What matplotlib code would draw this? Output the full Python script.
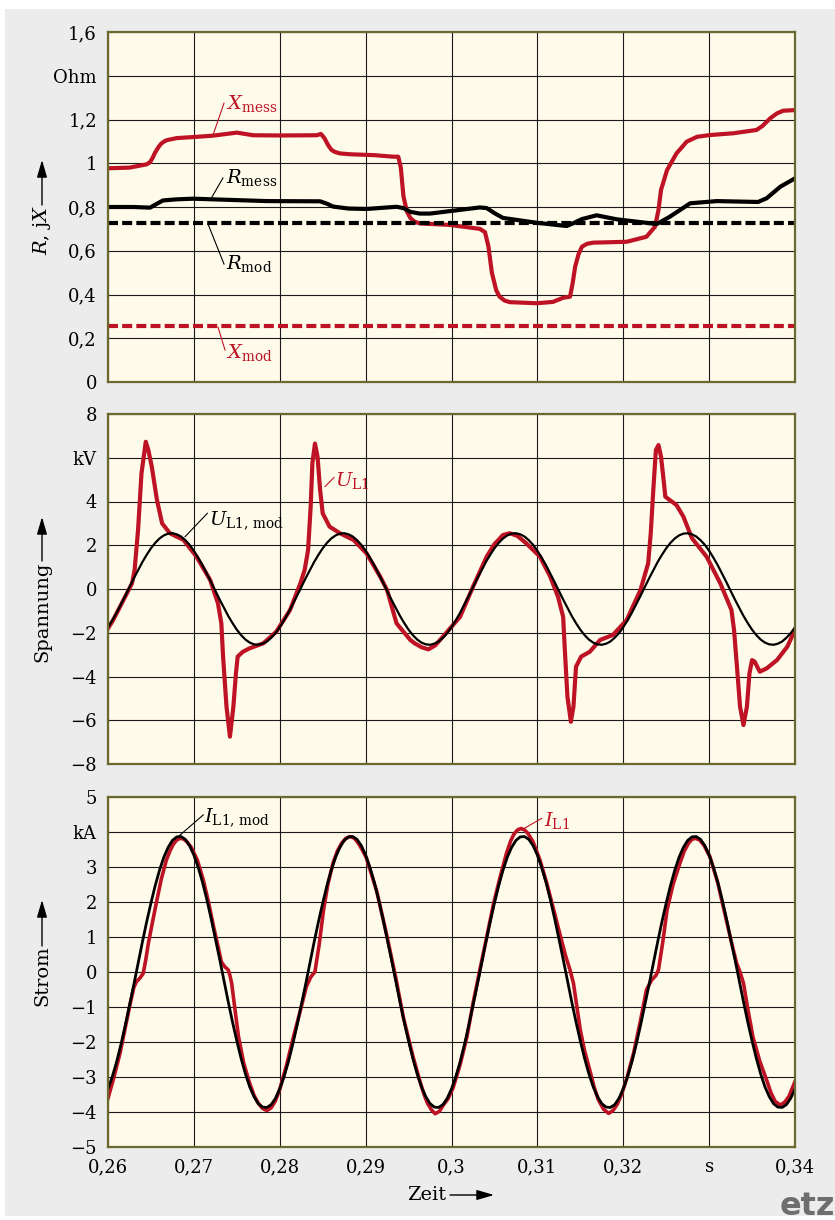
import numpy as np
import matplotlib
matplotlib.use('Agg')
import matplotlib.pyplot as plt
from matplotlib.patches import Rectangle

plt.rcParams['font.family'] = ['DejaVu Serif']
plt.rcParams['mathtext.fontset'] = 'dejavuserif'

RED = '#be1324'
BG = '#fefbeb'
FRAME = '#6b6830'

# --- panel 1: R, jX (Ohm) ---
t_xmess = [0.2600, 0.2625, 0.2645, 0.2649, 0.2652, 0.2655, 0.2659, 0.2662, 0.2666, 0.2669,
           0.2680, 0.2700, 0.2722, 0.2750, 0.2769, 0.2800, 0.2843, 0.2848, 0.2852, 0.2856,
           0.2860, 0.2864, 0.2870, 0.2882, 0.2910, 0.2932, 0.2938, 0.2941, 0.2944, 0.2948,
           0.2952, 0.2957, 0.2963, 0.2998, 0.3033, 0.3039, 0.3043, 0.3047, 0.3052, 0.3056,
           0.3062, 0.3068, 0.3099, 0.3118, 0.3130, 0.3138, 0.3141, 0.3144, 0.3148, 0.3152,
           0.3158, 0.3165, 0.3204, 0.3227, 0.3237, 0.3241, 0.3244, 0.3251, 0.3262, 0.3274,
           0.3286, 0.3301, 0.3328, 0.3355, 0.3362, 0.3371, 0.3379, 0.3386, 0.3400]
x_mess = [0.977, 0.980, 0.995, 1.005, 1.025, 1.050, 1.075, 1.090, 1.101, 1.106,
          1.115, 1.120, 1.126, 1.140, 1.128, 1.127, 1.128, 1.134, 1.115, 1.085,
          1.062, 1.052, 1.045, 1.041, 1.037, 1.030, 1.030, 0.980, 0.850, 0.780,
          0.750, 0.733, 0.725, 0.718, 0.700, 0.685, 0.620, 0.500, 0.420, 0.390,
          0.372, 0.365, 0.360, 0.366, 0.385, 0.390, 0.450, 0.527, 0.585, 0.619,
          0.632, 0.637, 0.641, 0.664, 0.710, 0.786, 0.878, 0.969, 1.045, 1.099,
          1.121, 1.129, 1.137, 1.152, 1.170, 1.205, 1.228, 1.240, 1.243]

t_rmess = [0.2600, 0.2630, 0.2649, 0.2657, 0.2664, 0.2680, 0.2699, 0.2746, 0.2785, 0.2847,
           0.2855, 0.2862, 0.2880, 0.2901, 0.2936, 0.2944, 0.2952, 0.2963, 0.2975, 0.3033,
           0.3041, 0.3050, 0.3060, 0.3099, 0.3134, 0.3142, 0.3152, 0.3169, 0.3192, 0.3239,
           0.3254, 0.3278, 0.3309, 0.3357, 0.3367, 0.3383, 0.3400]
r_mess = [0.800, 0.800, 0.797, 0.815, 0.830, 0.835, 0.838, 0.832, 0.827, 0.826,
          0.815, 0.802, 0.793, 0.791, 0.801, 0.795, 0.778, 0.770, 0.770, 0.798,
          0.795, 0.772, 0.750, 0.728, 0.713, 0.726, 0.745, 0.762, 0.744, 0.722,
          0.755, 0.817, 0.827, 0.823, 0.840, 0.893, 0.931]

t_const = [0.26, 0.34]
r_mod = [0.725, 0.725]
x_mod = [0.257, 0.257]

# --- panel 2: Spannung (kV) ---
t_u = [0.2600, 0.2606, 0.2614, 0.2622, 0.2628, 0.2631, 0.2635, 0.2639, 0.2644, 0.2647,
       0.2651, 0.2657, 0.2663, 0.2672, 0.2688, 0.2703, 0.2719, 0.2728, 0.2732, 0.2734,
       0.2738, 0.2742, 0.2746, 0.2749, 0.2751, 0.2757, 0.2765, 0.2781, 0.2796, 0.2812,
       0.2824, 0.2829, 0.2833, 0.2836, 0.2838, 0.2841, 0.2844, 0.2847, 0.2850, 0.2858,
       0.2870, 0.2886, 0.2901, 0.2917, 0.2925, 0.2936, 0.2952, 0.2957, 0.2965, 0.2973,
       0.2981, 0.2990, 0.3010, 0.3025, 0.3041, 0.3050, 0.3060, 0.3068, 0.3077, 0.3087,
       0.3103, 0.3115, 0.3124, 0.3130, 0.3132, 0.3135, 0.3139, 0.3142, 0.3145, 0.3151,
       0.3161, 0.3173, 0.3188, 0.3204, 0.3220, 0.3229, 0.3232, 0.3235, 0.3238, 0.3241,
       0.3244, 0.3247, 0.3249, 0.3254, 0.3262, 0.3270, 0.3280, 0.3297, 0.3313, 0.3326,
       0.3329, 0.3333, 0.3336, 0.3340, 0.3344, 0.3347, 0.3350, 0.3353, 0.3359, 0.3367,
       0.3379, 0.3391, 0.3400]
u_l1 = [-1.80, -1.42, -0.81, -0.20, 0.26, 0.87, 2.70, 5.29, 6.73, 6.35,
        5.59, 4.07, 3.00, 2.55, 2.24, 1.48, 0.41, -0.65, -1.57, -3.09,
        -5.38, -6.75, -5.38, -3.85, -3.09, -2.87, -2.71, -2.48, -1.95, -0.96,
        0.26, 0.87, 1.78, 3.76, 5.75, 6.65, 6.05, 4.53, 3.46, 2.85,
        2.55, 2.24, 1.63, 0.56, -0.05, -1.57, -2.33, -2.48, -2.66, -2.76,
        -2.58, -2.18, -1.27, 0.10, 1.48, 2.05, 2.47, 2.55, 2.42, 2.09,
        1.48, 0.56, -0.35, -1.27, -2.79, -4.92, -6.07, -5.38, -3.55, -3.09,
        -2.87, -2.33, -2.10, -1.42, -0.05, 1.17, 2.54, 4.53, 6.35, 6.58,
        6.05, 4.98, 4.22, 4.07, 3.84, 3.31, 2.32, 1.48, 0.26, -0.96,
        -1.87, -3.85, -5.38, -6.22, -5.38, -3.85, -3.25, -3.32, -3.78, -3.63,
        -3.25, -2.64, -1.87]

t_mod = np.round(np.arange(0.26, 0.34001, 0.0005), 5)
u_mod = [-1.75, -1.43, -1.09, -0.71, -0.32, 0.08, 0.48, 0.86, 1.23, 1.56,
         1.86, 2.11, 2.31, 2.45, 2.53, 2.55, 2.50, 2.40, 2.23, 2.02,
         1.75, 1.43, 1.09, 0.71, 0.32, -0.08, -0.48, -0.86, -1.23, -1.56,
         -1.86, -2.11, -2.31, -2.45, -2.53, -2.55, -2.50, -2.40, -2.23, -2.02,
         -1.75, -1.43, -1.09, -0.71, -0.32, 0.08, 0.48, 0.86, 1.23, 1.56,
         1.86, 2.11, 2.31, 2.45, 2.53, 2.55, 2.50, 2.40, 2.23, 2.02,
         1.75, 1.43, 1.09, 0.71, 0.32, -0.08, -0.48, -0.86, -1.23, -1.56,
         -1.86, -2.11, -2.31, -2.45, -2.53, -2.55, -2.50, -2.40, -2.23, -2.02,
         -1.75, -1.43, -1.09, -0.71, -0.32, 0.08, 0.48, 0.86, 1.23, 1.56,
         1.86, 2.11, 2.31, 2.45, 2.53, 2.55, 2.50, 2.40, 2.23, 2.02,
         1.75, 1.43, 1.09, 0.71, 0.32, -0.08, -0.48, -0.86, -1.23, -1.56,
         -1.86, -2.11, -2.31, -2.45, -2.53, -2.55, -2.50, -2.40, -2.23, -2.02,
         -1.75, -1.43, -1.09, -0.71, -0.32, 0.08, 0.48, 0.86, 1.23, 1.56,
         1.86, 2.11, 2.31, 2.45, 2.53, 2.55, 2.50, 2.40, 2.23, 2.02,
         1.75, 1.43, 1.09, 0.71, 0.32, -0.08, -0.48, -0.86, -1.23, -1.56,
         -1.86, -2.11, -2.31, -2.45, -2.53, -2.55, -2.50, -2.40, -2.23, -2.02,
         -1.75]

# --- panel 3: Strom (kA) ---
t_i = [0.2600, 0.2607, 0.2614, 0.2620, 0.2626, 0.2630, 0.2633, 0.2637, 0.2641, 0.2644,
       0.2647, 0.2652, 0.2657, 0.2662, 0.2668, 0.2672, 0.2676, 0.2680, 0.2684, 0.2688,
       0.2692, 0.2697, 0.2704, 0.2711, 0.2717, 0.2723, 0.2728, 0.2732, 0.2736, 0.2740,
       0.2742, 0.2744, 0.2748, 0.2752, 0.2758, 0.2765, 0.2770, 0.2775, 0.2780, 0.2785,
       0.2790, 0.2795, 0.2800, 0.2808, 0.2816, 0.2824, 0.2831, 0.2836, 0.2841, 0.2846,
       0.2851, 0.2856, 0.2862, 0.2867, 0.2872, 0.2877, 0.2882, 0.2887, 0.2892, 0.2897,
       0.2901, 0.2913, 0.2925, 0.2935, 0.2944, 0.2955, 0.2963, 0.2968, 0.2972, 0.2977,
       0.2981, 0.2986, 0.2990, 0.2996, 0.3002, 0.3010, 0.3018, 0.3025, 0.3033, 0.3041,
       0.3049, 0.3057, 0.3064, 0.3069, 0.3073, 0.3077, 0.3081, 0.3085, 0.3089, 0.3095,
       0.3103, 0.3111, 0.3119, 0.3127, 0.3133, 0.3138, 0.3142, 0.3146, 0.3150, 0.3155,
       0.3161, 0.3166, 0.3171, 0.3177, 0.3183, 0.3188, 0.3193, 0.3198, 0.3204, 0.3212,
       0.3220, 0.3227, 0.3233, 0.3238, 0.3241, 0.3246, 0.3251, 0.3258, 0.3266, 0.3271,
       0.3276, 0.3280, 0.3284, 0.3289, 0.3294, 0.3301, 0.3310, 0.3320, 0.3326, 0.3332,
       0.3336, 0.3340, 0.3345, 0.3351, 0.3359, 0.3367, 0.3372, 0.3377, 0.3383, 0.3388,
       0.3393, 0.3400]
i_l1 = [-3.61, -3.00, -2.32, -1.60, -0.89, -0.45, -0.28, -0.18, -0.04, 0.35,
        0.82, 1.45, 2.06, 2.65, 3.20, 3.45, 3.65, 3.77, 3.82, 3.80,
        3.72, 3.56, 3.20, 2.63, 2.00, 1.29, 0.75, 0.29, 0.15, 0.06,
        -0.10, -0.32, -1.10, -1.85, -2.60, -3.18, -3.52, -3.75, -3.90, -3.96,
        -3.88, -3.68, -3.35, -2.65, -1.85, -1.10, -0.42, -0.15, 0.01, 0.80,
        1.77, 2.50, 3.11, 3.45, 3.68, 3.82, 3.87, 3.82, 3.66, 3.45,
        3.25, 2.30, 1.01, -0.15, -1.30, -2.40, -3.10, -3.50, -3.75, -3.95,
        -4.05, -3.98, -3.82, -3.62, -3.30, -2.65, -1.85, -0.90, 0.06, 1.00,
        1.96, 2.75, 3.39, 3.75, 3.95, 4.06, 4.10, 4.06, 3.96, 3.72,
        3.20, 2.53, 1.78, 1.01, 0.45, 0.06, -0.32, -1.00, -1.66, -2.25,
        -2.80, -3.28, -3.65, -3.92, -4.04, -3.96, -3.78, -3.50, -3.05, -2.32,
        -1.40, -0.51, -0.23, -0.10, 0.06, 0.85, 1.77, 2.50, 3.11, 3.45,
        3.68, 3.79, 3.82, 3.77, 3.62, 3.29, 2.55, 1.49, 0.85, 0.25,
        0.00, -0.32, -1.05, -1.85, -2.55, -3.09, -3.45, -3.70, -3.80, -3.72,
        -3.55, -3.13]

i_mod = [-3.34, -2.99, -2.57, -2.08, -1.54, -0.96, -0.37, 0.24, 0.85, 1.43,
         1.97, 2.47, 2.91, 3.28, 3.56, 3.76, 3.86, 3.87, 3.79, 3.61,
         3.34, 2.99, 2.57, 2.08, 1.54, 0.96, 0.37, -0.24, -0.85, -1.43,
         -1.97, -2.47, -2.91, -3.28, -3.56, -3.76, -3.86, -3.87, -3.79, -3.61,
         -3.34, -2.99, -2.57, -2.08, -1.54, -0.96, -0.37, 0.24, 0.85, 1.43,
         1.97, 2.47, 2.91, 3.28, 3.56, 3.76, 3.86, 3.87, 3.79, 3.61,
         3.34, 2.99, 2.57, 2.08, 1.54, 0.96, 0.37, -0.24, -0.85, -1.43,
         -1.97, -2.47, -2.91, -3.28, -3.56, -3.76, -3.86, -3.87, -3.79, -3.61,
         -3.34, -2.99, -2.57, -2.08, -1.54, -0.96, -0.37, 0.24, 0.85, 1.43,
         1.97, 2.47, 2.91, 3.28, 3.56, 3.76, 3.86, 3.87, 3.79, 3.61,
         3.34, 2.99, 2.57, 2.08, 1.54, 0.96, 0.37, -0.24, -0.85, -1.43,
         -1.97, -2.47, -2.91, -3.28, -3.56, -3.76, -3.86, -3.87, -3.79, -3.61,
         -3.34, -2.99, -2.57, -2.08, -1.54, -0.96, -0.37, 0.24, 0.85, 1.43,
         1.97, 2.47, 2.91, 3.28, 3.56, 3.76, 3.86, 3.87, 3.79, 3.61,
         3.34, 2.99, 2.57, 2.08, 1.54, 0.96, 0.37, -0.24, -0.85, -1.43,
         -1.97, -2.47, -2.91, -3.28, -3.56, -3.76, -3.86, -3.87, -3.79, -3.61,
         -3.34]

x_ticks = [0.26, 0.27, 0.28, 0.29, 0.30, 0.31, 0.32, 0.33, 0.34]
x_labels = ['0,26', '0,27', '0,28', '0,29', '0,3', '0,31', '0,32', 's', '0,34']
y1_ticks = [0, 0.2, 0.4, 0.6, 0.8, 1.0, 1.2, 1.4, 1.6]
y1_labels = ['0', '0,2', '0,4', '0,6', '0,8', '1', '1,2', 'Ohm', '1,6']
y2_ticks = [-8, -6, -4, -2, 0, 2, 4, 6, 8]
y2_labels = ['\u22128', '\u22126', '\u22124', '\u22122', '0', '2', '4', 'kV', '8']
y3_ticks = [-5, -4, -3, -2, -1, 0, 1, 2, 3, 4, 5]
y3_labels = ['\u22125', '\u22124', '\u22123', '\u22122', '\u22121', '0', '1', '2', '3', 'kA', '5']

W, H = 835, 1220
fig = plt.figure(figsize=(W / 100, H / 100), dpi=100)
fig.patches.append(Rectangle((5 / W, 4 / H), 830 / W, 1207 / H, transform=fig.transFigure,
                             facecolor='#ebeceb', edgecolor='none', zorder=-10))


def make_ax(top_px, yticks, ylabels, ylim, show_x):
    ax = fig.add_axes([108 / W, 1 - (top_px + 350) / H, 687 / W, 350 / H])
    ax.set_facecolor(BG)
    ax.set_xlim(0.26, 0.34)
    ax.set_ylim(*ylim)
    ax.set_xticks(x_ticks, x_labels if show_x else [''] * len(x_ticks))
    ax.set_yticks(yticks, ylabels)
    ax.tick_params(length=0, labelsize=13, pad=8)
    ax.grid(True, color='#1a1a1a', lw=0.8)
    ax.set_axisbelow(True)
    for s in ax.spines.values():
        s.set_color(FRAME)
        s.set_linewidth(1.6)
    return ax


def leader(ax, p0, p1, txt, pos, color):
    ax.plot([p0[0], p1[0]], [p0[1], p1[1]], color=color, lw=0.8)
    ax.text(pos[0], pos[1], txt, color=color, fontsize=14, ha='left', va='center')


def ylabel_arrow(x, y_text, y0, y1, txt):
    fig.text(x / W, 1 - y_text / H, txt, rotation=90, ha='center', va='center', fontsize=14)
    fig.axes[0].annotate('', xy=(x / W, 1 - y1 / H), xytext=(x / W, 1 - y0 / H),
                         xycoords='figure fraction', annotation_clip=False,
                         arrowprops=dict(arrowstyle='-|>,head_length=0.75,head_width=0.22',
                                         mutation_scale=14, lw=1, color='black',
                                         shrinkA=0, shrinkB=0))


ax1 = make_ax(32, y1_ticks, y1_labels, (0, 1.6), False)
ax1.plot(t_xmess, x_mess, color=RED, lw=3, solid_joinstyle='round')
ax1.plot(t_rmess, r_mess, color='black', lw=3, solid_joinstyle='round')
ax1.plot(t_const, x_mod, color=RED, lw=3, dashes=(2.4, 1.0))
ax1.plot(t_const, r_mod, color='black', lw=3, dashes=(2.4, 1.0))
leader(ax1, (0.27223, 1.129), (0.27351, 1.275), r'$X_{\mathrm{mess}}$', (0.2737, 1.275), RED)
leader(ax1, (0.27211, 0.846), (0.27339, 0.933), r'$R_{\mathrm{mess}}$', (0.2737, 0.935), 'black')
leader(ax1, (0.27165, 0.722), (0.27351, 0.539), r'$R_{\mathrm{mod}}$', (0.2737, 0.544), 'black')
leader(ax1, (0.27281, 0.251), (0.27363, 0.146), r'$X_{\mathrm{mod}}$', (0.2737, 0.135), RED)

ax2 = make_ax(414, y2_ticks, y2_labels, (-8, 8), False)
ax2.plot(t_u, u_l1, color=RED, lw=3, solid_joinstyle='round')
ax2.plot(t_mod, u_mod, color='black', lw=1.6, solid_joinstyle='round')
leader(ax2, (0.28527, 4.68), (0.28632, 5.10), r'$U_{\mathrm{L1}}$', (0.28645, 4.98), RED)
leader(ax2, (0.26897, 2.39), (0.27157, 3.46), r'$U_{\mathrm{L1,\,mod}}$', (0.2718, 3.11), 'black')

ax3 = make_ax(797, y3_ticks, y3_labels, (-5, 5), True)
ax3.plot(t_i, i_l1, color=RED, lw=2.6, solid_joinstyle='round')
ax3.plot(t_mod, i_mod, color='black', lw=2.0, solid_joinstyle='round')
leader(ax3, (0.26819, 3.87), (0.27110, 4.49), r'$I_{\mathrm{L1,\,mod}}$', (0.27118, 4.40), 'black')
leader(ax3, (0.30817, 4.06), (0.31050, 4.39), r'$I_{\mathrm{L1}}$', (0.31077, 4.34), RED)

ylabel_arrow(42, 230, 205, 160, r'$R$, j$X$')
ylabel_arrow(42, 612, 561, 517, 'Spannung')
ylabel_arrow(42, 976, 946, 900, 'Strom')

fig.text(427 / W, 1 - 1195 / H, 'Zeit', ha='center', va='center', fontsize=14)
ax3.annotate('', xy=(494 / W, 1 - 1195 / H), xytext=(450 / W, 1 - 1195 / H),
             xycoords='figure fraction', annotation_clip=False,
             arrowprops=dict(arrowstyle='-|>,head_length=0.75,head_width=0.22',
                             mutation_scale=14, lw=1, color='black', shrinkA=0, shrinkB=0))

fig.text(780 / W, 1 - 1215 / H, 'etz', family='DejaVu Sans', fontweight='bold',
         color='#6e6e6e', fontsize=23, ha='left', va='baseline')

fig.savefig('out.png', dpi=100)
